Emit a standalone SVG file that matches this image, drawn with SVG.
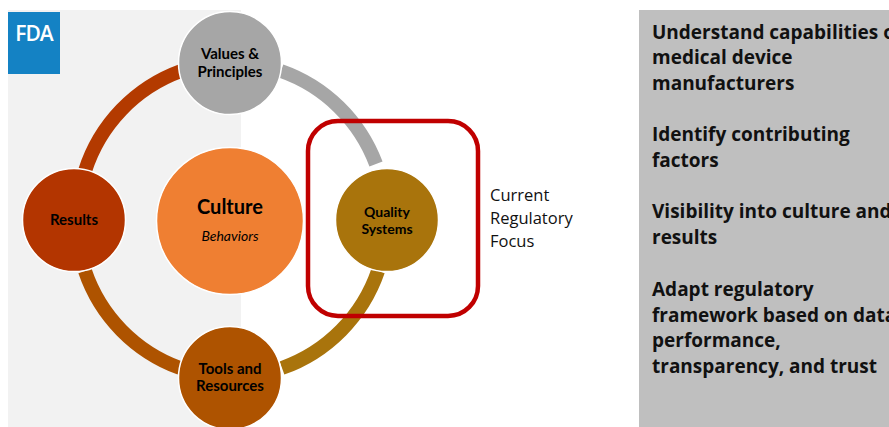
<svg xmlns="http://www.w3.org/2000/svg" width="889" height="427" viewBox="0 0 889 427">
<style>
.n{stroke:#fff;stroke-width:1.5}
.a{fill:none;stroke-width:14}
text{font-family:"Lato","Liberation Sans",sans-serif;fill:#000;text-anchor:middle}
.l{font-size:15px;font-weight:700}
.p{font-family:"Open Sans","Liberation Sans",sans-serif;font-size:19px;font-weight:700;text-anchor:start;fill:#111}
.f{font-family:"Open Sans","Liberation Sans",sans-serif;font-size:16.5px;text-anchor:start;fill:#111}
</style>
<rect width="889" height="427" fill="#fff"/>
<rect x="8" y="10" width="233" height="417" fill="#f2f2f2"/>
<rect x="639" y="10" width="250" height="417" fill="#bfbfbf"/>
<g id="fda-logo">
<rect x="8" y="12" width="52" height="62" fill="#1482c4"/>
<text x="34" y="41" style="font-family:'Open Sans','Liberation Sans',sans-serif;font-size:21px;font-weight:600;fill:#fff;letter-spacing:-1px">FDA</text>
</g>
<g id="connectors">
<path class="a" stroke="#b33a00" d="M85 171A157 157 0 0 1 181 71"/>
<path class="a" stroke="#a6a6a6" d="M281 71A157 157 0 0 1 376 164"/>
<path class="a" stroke="#a9740c" d="M378 271A157 157 0 0 1 282 368"/>
<path class="a" stroke="#ae5300" d="M180 368A157 157 0 0 1 85 271"/>
</g>
<g id="values"><circle class="n" cx="230" cy="63" r="51.5" fill="#a6a6a6"/><text class="l" x="230" y="59">Values &amp;</text><text class="l" x="230" y="77">Principles</text></g>
<g id="results"><circle class="n" cx="74" cy="220" r="51.5" fill="#b33500"/><text class="l" x="74" y="225">Results</text></g>
<g id="tools"><circle class="n" cx="230" cy="378" r="51.5" fill="#ae5300"/><text class="l" x="230" y="374">Tools and</text><text class="l" x="230" y="391">Resources</text></g>
<g id="quality"><circle class="n" cx="387" cy="220" r="51.5" fill="#a9740c"/><text class="l" x="387" y="217" style="font-size:14px">Quality</text><text class="l" x="387" y="234" style="font-size:14px">Systems</text></g>
<g id="culture"><circle class="n" cx="230" cy="221" r="73.5" fill="#ef7f32"/><text x="230" y="214" style="font-size:20px;font-weight:700">Culture</text><text x="230" y="241" style="font-size:14px;font-style:italic">Behaviors</text></g>
<g id="focus"><rect x="308" y="121" width="170" height="195" rx="30" fill="none" stroke="#c00000" stroke-width="4.5"/></g>
<g id="focus-label"><text class="f" x="490" y="201">Current</text><text class="f" x="490" y="224">Regulatory</text><text class="f" x="490" y="247">Focus</text></g>
<g id="panel">
<text class="p" x="652" y="39">Understand capabilities of</text>
<text class="p" x="652" y="64">medical device</text>
<text class="p" x="652" y="90">manufacturers</text>
<text class="p" x="652" y="141">Identify contributing</text>
<text class="p" x="652" y="167">factors</text>
<text class="p" x="652" y="218">Visibility into culture and</text>
<text class="p" x="652" y="244">results</text>
<text class="p" x="652" y="296">Adapt regulatory</text>
<text class="p" x="652" y="322">framework based on data,</text>
<text class="p" x="652" y="347">performance,</text>
<text class="p" x="652" y="373">transparency, and trust</text>
</g>
</svg>
